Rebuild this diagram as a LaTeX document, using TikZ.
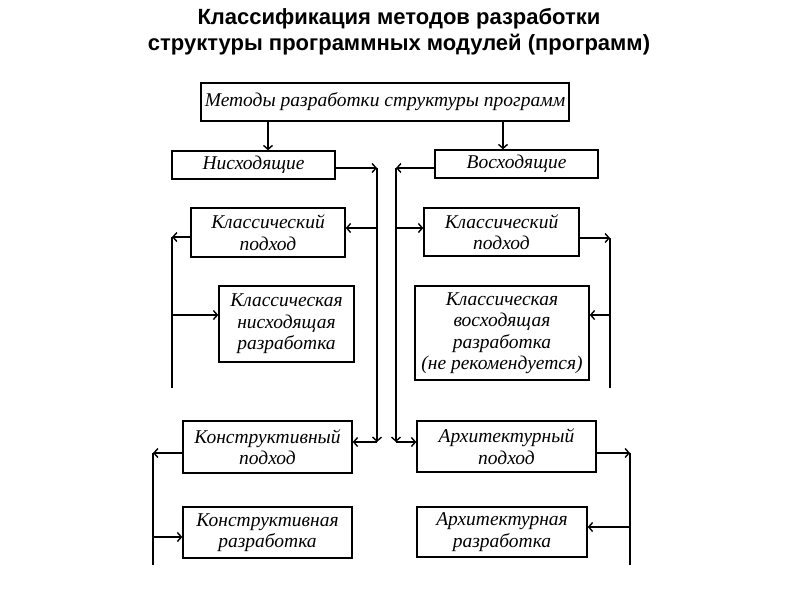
\documentclass[tikz,border=0pt]{standalone}
\usepackage{fontspec}
\setmainfont{Liberation Serif}
\newfontfamily\titlefont{Liberation Sans}
\usetikzlibrary{arrows.meta}
\begin{document}
\begin{tikzpicture}[x=1pt,y=-1pt,
  box/.style={draw,line width=1.4pt,inner sep=0pt,align=center,
    font=\fontsize{19.5}{21.5}\selectfont\itshape},
  arr/.style={line width=1.5pt,-{Straight Barb[length=4pt,width=9pt,line width=1.4pt]}},
  ln/.style={line width=1.5pt}]
\useasboundingbox (0,0) rectangle (800,600);
\node[font=\titlefont\bfseries\fontsize{22}{26}\selectfont,align=center] (title) at (399,32)
  {Классификация методов разработки\\структуры программных модулей (программ)};
\node[box,minimum width=368pt,minimum height=38pt] (top) at (385,102) {Методы разработки структуры программ};
\node[box,minimum width=163pt,minimum height=28pt] (nis) at (253.5,165) {Нисходящие};
\node[box,minimum width=163pt,minimum height=28pt] (vos) at (516.5,164) {Восходящие};
\node[box,minimum width=154pt,minimum height=49pt] (klL) at (268,232.5) {Классический\\подход};
\node[box,minimum width=135pt,minimum height=76pt] (kndL) at (286.5,324) {Классическая\\нисходящая\\разработка};
\node[box,minimum width=155pt,minimum height=48pt] (klR) at (501.5,232) {Классический\\подход};
\node[box,minimum width=174pt,minimum height=94pt] (kvR) at (502,333) {Классическая\\восходящая\\разработка\\(не рекомендуется)};
\node[box,minimum width=169pt,minimum height=52pt] (konL) at (267.5,447) {Конструктивный\\подход};
\node[box,minimum width=169pt,minimum height=51pt] (konR) at (267.5,532.5) {Конструктивная\\разработка};
\node[box,minimum width=179pt,minimum height=51pt] (arhL) at (506.5,446.5) {Архитектурный\\подход};
\node[box,minimum width=170pt,minimum height=50pt] (arhR) at (502,532) {Архитектурная\\разработка};
% guide coordinates
\coordinate (xa) at (268,0);
\coordinate (xb) at (503,0);
\coordinate (sL) at (377,0);
\coordinate (sR) at (396,0);
\coordinate (oL1) at (172,0);
\coordinate (oR1) at (610,0);
\coordinate (oL2) at (153,0);
\coordinate (oR2) at (630,0);
\coordinate (yj) at (0,442);
\coordinate (yb1) at (0,388);
\coordinate (yb2) at (0,565);
% top
\draw[arr] (top.south -| xa) -- (nis.north -| xa);
\draw[arr] (top.south -| xb) -- (vos.north -| xb);
% spines
\draw[arr] ([yshift=-3pt]nis.east) -- ([yshift=-3pt]nis.east -| sL);
\draw[arr] ([yshift=-3pt]nis.east -| sL) -- (sL |- yj);
\draw[arr] (sL |- yj) -- (konL.east |- yj);
\draw[arr] ([yshift=-4pt]vos.west) -- ([yshift=-4pt]vos.west -| sR);
\draw[arr] ([yshift=-4pt]vos.west -| sR) -- (sR |- yj);
\draw[arr] (sR |- yj) -- (arhL.west |- yj);
% classic left
\draw[arr] ([yshift=4.5pt]klL.east -| sL) -- ([yshift=4.5pt]klL.east);
\draw[arr] ([yshift=-4.5pt]klL.west) -- ([yshift=-4.5pt]klL.west -| oL1);
\draw[ln] ([yshift=-4.5pt]klL.west -| oL1) -- (oL1 |- yb1);
\draw[arr] ([yshift=9pt]kndL.west -| oL1) -- ([yshift=9pt]kndL.west);
% classic right
\draw[arr] ([yshift=4pt]klR.west -| sR) -- ([yshift=4pt]klR.west);
\draw[arr] ([yshift=-6pt]klR.east) -- ([yshift=-6pt]klR.east -| oR1);
\draw[ln] ([yshift=-6pt]klR.east -| oR1) -- (oR1 |- yb1);
\draw[arr] ([yshift=18pt]kvR.east -| oR1) -- ([yshift=18pt]kvR.east);
% constructive
\draw[arr] ([yshift=-6pt]konL.west) -- ([yshift=-6pt]konL.west -| oL2);
\draw[ln] ([yshift=-6pt]konL.west -| oL2) -- (oL2 |- yb2);
\draw[arr] ([yshift=-4.5pt]konR.west -| oL2) -- ([yshift=-4.5pt]konR.west);
% architectural
\draw[arr] ([yshift=-6.5pt]arhL.east) -- ([yshift=-6.5pt]arhL.east -| oR2);
\draw[ln] ([yshift=-6.5pt]arhL.east -| oR2) -- (oR2 |- yb2);
\draw[arr] ([yshift=5pt]arhR.east -| oR2) -- ([yshift=5pt]arhR.east);
\end{tikzpicture}
\end{document}
